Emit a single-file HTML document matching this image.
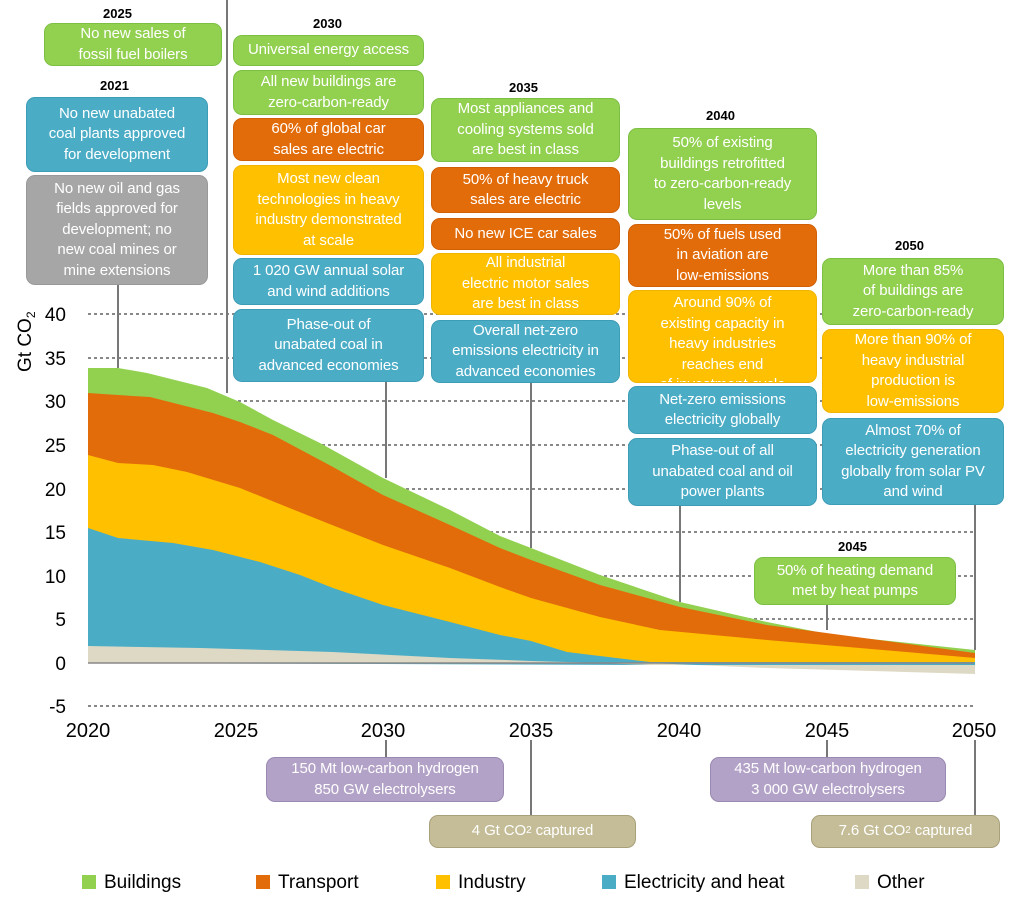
<!DOCTYPE html>
<html><head><meta charset="utf-8"><style>
body{margin:0;width:1016px;height:902px;background:#fff;position:relative;overflow:hidden;font-family:"Liberation Sans",sans-serif}
.b{position:absolute;box-sizing:border-box;border-radius:9px;color:#fff;font-size:15px;line-height:20.5px;display:flex;align-items:center;justify-content:center;text-align:center;overflow:hidden;padding:0 2px;white-space:nowrap;letter-spacing:-0.1px}
.g{background:#92d050;border:1px solid #7cc043}.o{background:#e36c0a;border:1px solid #d05f05}.y{background:#ffc000;border:1px solid #f0b400}.bl{background:#4bacc6;border:1px solid #3d9cb6}.gr{background:#a6a6a6;border:1px solid #999}.p{background:#b3a2c7;border:1px solid #9a89b0}.t{background:#c4bd97;border:1px solid #a8a07a}
.yr{position:absolute;font-weight:bold;font-size:13px;color:#000}
.lg{position:absolute;top:872px;font-size:19px;color:#000}
.lg i{display:inline-block;width:14px;height:14px;margin-right:8px;vertical-align:-1px}
</style></head><body>
<svg width="1016" height="902" style="position:absolute;left:0;top:0">
<g stroke="#888" stroke-width="2" stroke-dasharray="3,3">
<line x1="88" x2="974" y1="314" y2="314"/><line x1="88" x2="974" y1="358" y2="358"/><line x1="88" x2="974" y1="401" y2="401"/><line x1="88" x2="974" y1="445" y2="445"/><line x1="88" x2="974" y1="489" y2="489"/><line x1="88" x2="974" y1="532" y2="532"/><line x1="88" x2="974" y1="576" y2="576"/><line x1="88" x2="974" y1="619" y2="619"/><line x1="88" x2="974" y1="706" y2="706"/>
</g>
<g stroke="#777" stroke-width="2">
<line x1="118" y1="285" x2="118" y2="368"/><line x1="227" y1="0" x2="227" y2="393"/><line x1="386" y1="382" x2="386" y2="478"/><line x1="531" y1="383" x2="531" y2="548"/><line x1="680" y1="506" x2="680" y2="602"/><line x1="975" y1="505" x2="975" y2="650"/><line x1="827" y1="605" x2="827" y2="630"/>
<line x1="386" y1="740" x2="386" y2="757"/><line x1="531" y1="740" x2="531" y2="815"/><line x1="827" y1="740" x2="827" y2="757"/><line x1="975" y1="740" x2="975" y2="815"/>
</g>
<polygon fill="#92d050" points="88,368 118,368 147,373 207,388 240,402 273,420 320,443 383,478 450,510 500,536 531,548 600,575 680,602 767,622 833,635 975,650 975,663 88,663"/>
<polygon fill="#e36c0a" points="88,393 118,395 150,397 213,413 240,422 273,435 333,467 383,495 450,525 500,548 531,560 600,585 680,607 767,625 975,653 975,663 88,663"/>
<polygon fill="#ffc000" points="88,455 118,463 153,465 187,472 240,488 287,507 327,523 383,545 450,568 500,587 531,598 600,617 660,630 767,640 975,658 975,663 88,663"/>
<polygon fill="#4bacc6" points="88,528 118,538 173,543 213,550 260,562 300,575 333,588 383,605 450,622 500,635 531,641 567,652 650,662 975,662 975,665 650,665 88,663"/>
<polygon fill="#ddd9c4" points="88,646 200,648 333,652 450,658 531,661 600,663 650,665 975,665 975,674 767,668 650,663 560,663 88,663"/>
<line x1="88" y1="663" x2="974" y2="663" stroke="#888" stroke-width="1.5"/>
<g font-size="19" text-anchor="end" fill="#000">
<text x="66" y="321">40</text><text x="66" y="365">35</text><text x="66" y="408">30</text><text x="66" y="452">25</text><text x="66" y="496">20</text><text x="66" y="539">15</text><text x="66" y="583">10</text><text x="66" y="626">5</text><text x="66" y="670">0</text><text x="66" y="713">-5</text>
</g>
<g font-size="20" text-anchor="middle" fill="#000">
<text x="88" y="737">2020</text><text x="236" y="737">2025</text><text x="383" y="737">2030</text><text x="531" y="737">2035</text><text x="679" y="737">2040</text><text x="827" y="737">2045</text><text x="974" y="737">2050</text>
</g>
<text transform="translate(31,372) rotate(-90)" font-size="19" fill="#000">Gt CO<tspan font-size="12" dy="4">2</tspan></text>
</svg>
<div class="yr" style="left:103px;top:6px">2025</div>
<div class="yr" style="left:313px;top:16px">2030</div>
<div class="yr" style="left:100px;top:78px">2021</div>
<div class="yr" style="left:509px;top:80px">2035</div>
<div class="yr" style="left:706px;top:108px">2040</div>
<div class="yr" style="left:895px;top:238px">2050</div>
<div class="yr" style="left:838px;top:539px">2045</div>

<div class="b g" style="left:44px;top:23px;width:178px;height:43px">No new sales of<br>fossil fuel boilers</div>
<div class="b bl" style="left:26px;top:97px;width:182px;height:75px">No new unabated<br>coal plants approved<br>for development</div>
<div class="b gr" style="left:26px;top:175px;width:182px;height:110px">No new oil and gas<br>fields approved for<br>development; no<br>new coal mines or<br>mine extensions</div>

<div class="b g" style="left:233px;top:35px;width:191px;height:31px">Universal energy access</div>
<div class="b g" style="left:233px;top:70px;width:191px;height:45px">All new buildings are<br>zero-carbon-ready</div>
<div class="b o" style="left:233px;top:118px;width:191px;height:43px">60% of global car<br>sales are electric</div>
<div class="b y" style="left:233px;top:165px;width:191px;height:90px">Most new clean<br>technologies in heavy<br>industry demonstrated<br>at scale</div>
<div class="b bl" style="left:233px;top:258px;width:191px;height:47px">1 020 GW annual solar<br>and wind additions</div>
<div class="b bl" style="left:233px;top:309px;width:191px;height:73px">Phase-out of<br>unabated coal in<br>advanced economies</div>

<div class="b g" style="left:431px;top:98px;width:189px;height:64px">Most appliances and<br>cooling systems sold<br>are best in class</div>
<div class="b o" style="left:431px;top:167px;width:189px;height:46px">50% of heavy truck<br>sales are electric</div>
<div class="b o" style="left:431px;top:218px;width:189px;height:32px">No new ICE car sales</div>
<div class="b y" style="left:431px;top:253px;width:189px;height:62px">All industrial<br>electric motor sales<br>are best in class</div>
<div class="b bl" style="left:431px;top:320px;width:189px;height:63px">Overall net-zero<br>emissions electricity in<br>advanced economies</div>

<div class="b g" style="left:628px;top:128px;width:189px;height:92px">50% of existing<br>buildings retrofitted<br>to zero-carbon-ready<br>levels</div>
<div class="b o" style="left:628px;top:224px;width:189px;height:63px">50% of fuels used<br>in aviation are<br>low-emissions</div>
<div class="b y" style="left:628px;top:290px;width:189px;height:93px;align-items:flex-start;padding-top:2px">Around 90% of<br>existing capacity in<br>heavy industries<br>reaches end<br>of investment cycle</div>
<div class="b bl" style="left:628px;top:386px;width:189px;height:48px">Net-zero emissions<br>electricity globally</div>
<div class="b bl" style="left:628px;top:438px;width:189px;height:68px">Phase-out of all<br>unabated coal and oil<br>power plants</div>

<div class="b g" style="left:822px;top:258px;width:182px;height:67px">More than 85%<br>of buildings are<br>zero-carbon-ready</div>
<div class="b y" style="left:822px;top:329px;width:182px;height:84px">More than 90% of<br>heavy industrial<br>production is<br>low-emissions</div>
<div class="b bl" style="left:822px;top:418px;width:182px;height:87px">Almost 70% of<br>electricity generation<br>globally from solar PV<br>and wind</div>
<div class="b g" style="left:754px;top:557px;width:202px;height:48px">50% of heating demand<br>met by heat pumps</div>

<div class="b p" style="left:266px;top:757px;width:238px;height:45px">150 Mt low-carbon hydrogen<br>850 GW electrolysers</div>
<div class="b t" style="left:429px;top:815px;width:207px;height:33px">4 Gt CO<sub style="font-size:10px">2</sub>&nbsp;captured</div>
<div class="b p" style="left:710px;top:757px;width:236px;height:45px">435 Mt low-carbon hydrogen<br>3 000 GW electrolysers</div>
<div class="b t" style="left:811px;top:815px;width:189px;height:33px">7.6 Gt CO<sub style="font-size:10px">2</sub>&nbsp;captured</div>

<div class="lg" style="left:82px"><i style="background:#92d050"></i>Buildings</div>
<div class="lg" style="left:256px"><i style="background:#e36c0a"></i>Transport</div>
<div class="lg" style="left:436px"><i style="background:#ffc000"></i>Industry</div>
<div class="lg" style="left:602px"><i style="background:#4bacc6"></i>Electricity and heat</div>
<div class="lg" style="left:855px"><i style="background:#ddd9c4"></i>Other</div>
</body></html>
